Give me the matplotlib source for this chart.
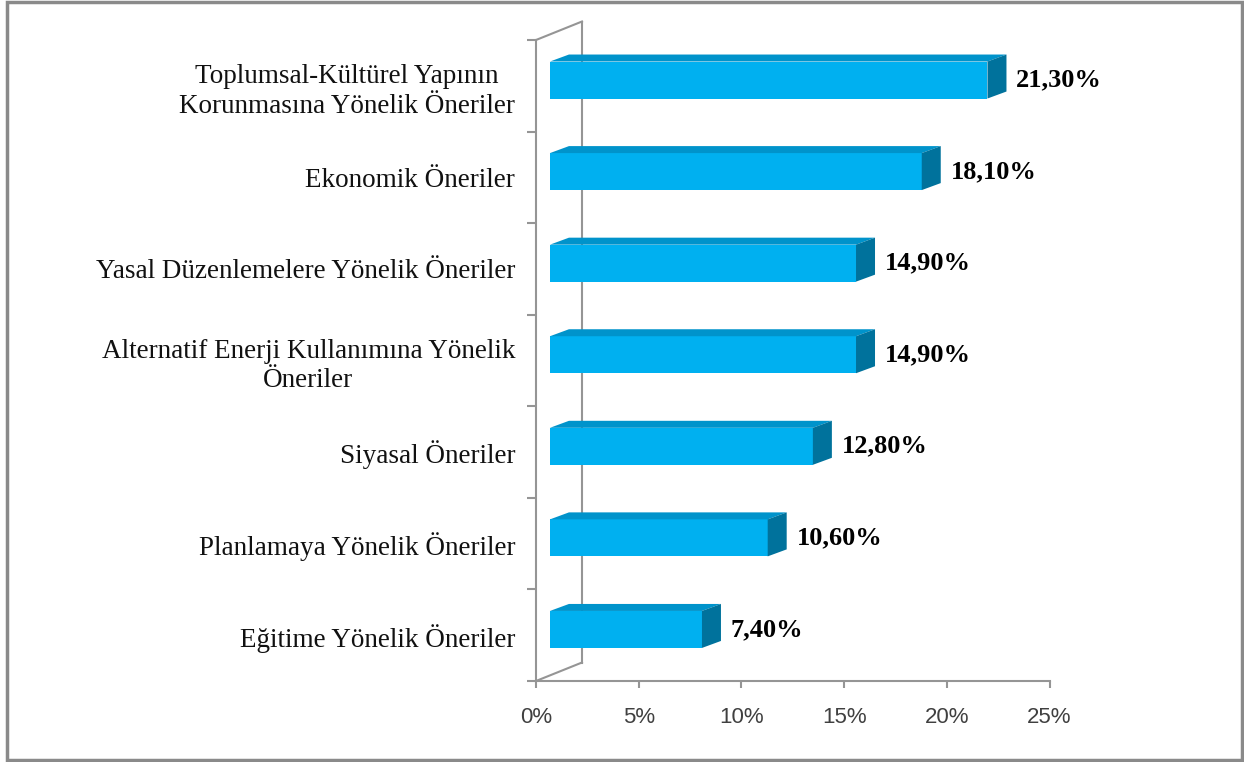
import numpy as np
import matplotlib.pyplot as plt
from matplotlib.patches import Polygon, Rectangle

# veriler (alttan üste)
kategoriler = [
    "Eğitime Yönelik Öneriler",
    "Planlamaya Yönelik Öneriler",
    "Siyasal Öneriler",
    "Alternatif Enerji Kullanımına Yönelik\nÖneriler",
    "Yasal Düzenlemelere Yönelik Öneriler",
    "Ekonomik Öneriler",
    "Toplumsal-Kültürel Yapının\nKorunmasına Yönelik Öneriler",
]
oranlar = [7.4, 10.6, 12.8, 14.9, 14.9, 18.1, 21.3]
etiketler = ["7,40%", "10,60%", "12,80%", "14,90%", "14,90%", "18,10%", "21,30%"]
x_ticks = [0, 5, 10, 15, 20, 25]

# renkler
on_renk = '#00B0F0'
ust_renk = '#0093CB'
yan_renk = '#00729C'
gri = '#959595'

# 3B görünüm için kaymalar (veri birimi)
x0 = 0.68      # ön yüzün eksenden kayması
y0 = 0.063
h = 0.404      # çubuk kalınlığı
dx = 0.925     # derinlik
dz = 0.0764
wx = 2.24      # arka duvar
wz = 0.202

fig = plt.figure(figsize=(12.44, 7.62), dpi=100)
ax = fig.add_axes([536/1244, 81/762, 513.5/1244, 641/762])

y = np.arange(len(kategoriler))
ax.set_xlim(0, 25)
ax.set_ylim(-0.5, len(kategoriler) - 0.5)

# arka duvar çizgileri
alt, ust = -0.5, len(kategoriler) - 0.5
ax.plot([wx, wx], [alt + wz, ust + wz], color=gri, lw=1.5, clip_on=False, zorder=1)
ax.plot([0, wx], [ust, ust + wz], color=gri, lw=1.5, clip_on=False, zorder=1)
ax.plot([0, wx], [alt, alt + wz], color=gri, lw=1.5, clip_on=False, zorder=1)

# ön yüzler
ax.barh(y + y0, oranlar, height=h, left=x0, color=on_renk, zorder=3)

for yi, v, et in zip(y, oranlar, etiketler):
    yb = yi + y0 - h / 2
    yt = yi + y0 + h / 2
    xr = x0 + v
    ax.add_patch(Polygon([(x0, yt), (x0 + dx, yt + dz), (xr + dx, yt + dz), (xr, yt)],
                         closed=True, facecolor=ust_renk, edgecolor='none', zorder=3))
    ax.add_patch(Polygon([(xr, yb), (xr, yt), (xr + dx, yt + dz), (xr + dx, yb + dz)],
                         closed=True, facecolor=yan_renk, edgecolor='none', zorder=3))
    ax.text(xr + 1.4, yi + y0, et, ha='left', va='center', fontsize=19,
            fontweight='bold', family='Liberation Serif', color='black', zorder=4)

for s in ['top', 'right']:
    ax.spines[s].set_visible(False)
for s in ['left', 'bottom']:
    ax.spines[s].set_color(gri)
    ax.spines[s].set_linewidth(1.5)

ax.set_xticks(x_ticks)
ax.set_xticklabels([f"{t}%" for t in x_ticks], family='Liberation Sans', fontsize=16, color='#404040')
ax.tick_params(axis='x', direction='out', length=5, width=1.5, color=gri, pad=14)

ax.set_yticks(np.arange(len(kategoriler) + 1) - 0.5)
ax.set_yticklabels([])
ax.tick_params(axis='y', which='major', direction='out', length=6.5, width=1.5, color=gri)
ax.set_yticks(y, minor=True)
ax.set_yticklabels(kategoriler, minor=True, family='Liberation Serif', fontsize=19.5, color='#111111')
ax.tick_params(axis='y', which='minor', length=0, pad=15)
for lab in ax.get_yticklabels(minor=True):
    lab.set_multialignment('center')
    lab.set_linespacing(1.25)

# dış çerçeve
fig.patches.append(Rectangle((7/1244, 2/762), 1235/1244, 758/762, transform=fig.transFigure,
                             fill=False, edgecolor='#8A8A8A', lw=2.5))

fig.savefig('out.png', dpi=100)
